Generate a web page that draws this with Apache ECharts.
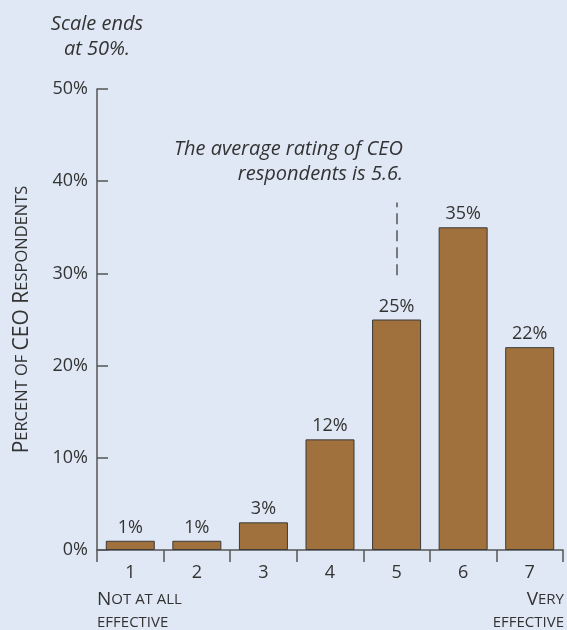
<!DOCTYPE html>
<html>
<head>
<meta charset="utf-8">
<script src="https://cdn.jsdelivr.net/npm/echarts@6/dist/echarts.min.js"></script>
<style>
html,body{margin:0;padding:0;background:#dfe8f4;}
#c{width:567px;height:630px;}
</style>
</head>
<body>
<div id="c"></div>
<script>
const categories = ['1','2','3','4','5','6','7'];
const values = [1, 1, 3, 12, 25, 35, 22];
const yTicks = [0, 10, 20, 30, 40, 50];
const averageCategory = '5';
const averageLineRange = [29.8, 37.7];

const FONT = 'Open Sans';
const TXT = '#333';

const chart = echarts.init(document.getElementById('c'));
chart.setOption({
  backgroundColor: '#dfe8f4',
  animation: false,
  grid: {left: 97, right: 4, top: 89, bottom: 80},
  xAxis: {
    type: 'category',
    data: categories,
    axisLine: {lineStyle: {color: '#555', width: 1.5}},
    axisTick: {show: true, length: 12, inside: false, lineStyle: {color: '#555', width: 1.5}},
    axisLabel: {color: TXT, fontFamily: FONT, fontSize: 18, margin: 14}
  },
  yAxis: {
    type: 'value',
    min: yTicks[0], max: yTicks[yTicks.length - 1], interval: 10,
    axisLine: {show: true, lineStyle: {color: '#555', width: 1.5}},
    axisTick: {show: true, inside: true, length: 11, lineStyle: {color: '#555', width: 1.5}},
    splitLine: {show: false},
    axisLabel: {color: TXT, fontFamily: FONT, fontSize: 18, margin: 9, formatter: v => v + '%'},
    name: '{b|P}{s|ERCENT OF }{b|CEO R}{s|ESPONDENTS}',
    nameLocation: 'middle',
    nameGap: 64,
    nameRotate: 90,
    nameTextStyle: {
      color: TXT, fontFamily: FONT,
      rich: {
        b: {fontSize: 21, fontFamily: FONT, color: TXT},
        s: {fontSize: 16.5, fontFamily: FONT, color: TXT}
      }
    }
  },
  series: [{
    type: 'bar',
    data: values,
    barWidth: 49,
    itemStyle: {color: '#a0713c', borderColor: '#3a3a3a', borderWidth: 1},
    label: {show: true, position: 'top', distance: 4, color: TXT, fontFamily: FONT, fontSize: 18, formatter: '{c}%'},
    markLine: {
      silent: true,
      symbol: 'none',
      label: {show: false},
      lineStyle: {color: '#555', width: 1.5, type: [11, 6]},
      data: [[{coord: [averageCategory, averageLineRange[0]]}, {coord: [averageCategory, averageLineRange[1]]}]]
    }
  }],
  graphic: [
    {type: 'text', style: {text: 'Scale ends\nat 50%.', fill: TXT, font: 'italic 20px "Open Sans"', textAlign: 'center', lineHeight: 25}, position: [97, 12]},
    {type: 'text', style: {text: 'The average rating of CEO\nrespondents is 5.6.', fill: TXT, font: 'italic 20px "Open Sans"', textAlign: 'right', lineHeight: 25}, position: [403, 137]},
    {type: 'text', style: {text: '{b|N}{s|OT AT ALL}\n{s|EFFECTIVE}', fill: TXT, rich: {b: {fontSize: 19, fontFamily: FONT, fill: TXT, lineHeight: 23}, s: {fontSize: 15, fontFamily: FONT, fill: TXT, lineHeight: 23}}}, position: [97, 588]},
    {type: 'text', style: {text: '{b|V}{s|ERY}\n{s|EFFECTIVE}', fill: TXT, align: 'right', rich: {b: {fontSize: 19, fontFamily: FONT, fill: TXT, lineHeight: 23, align: 'right'}, s: {fontSize: 15, fontFamily: FONT, fill: TXT, lineHeight: 23, align: 'right'}}}, position: [564, 588]}
  ]
});
</script>
</body>
</html>
